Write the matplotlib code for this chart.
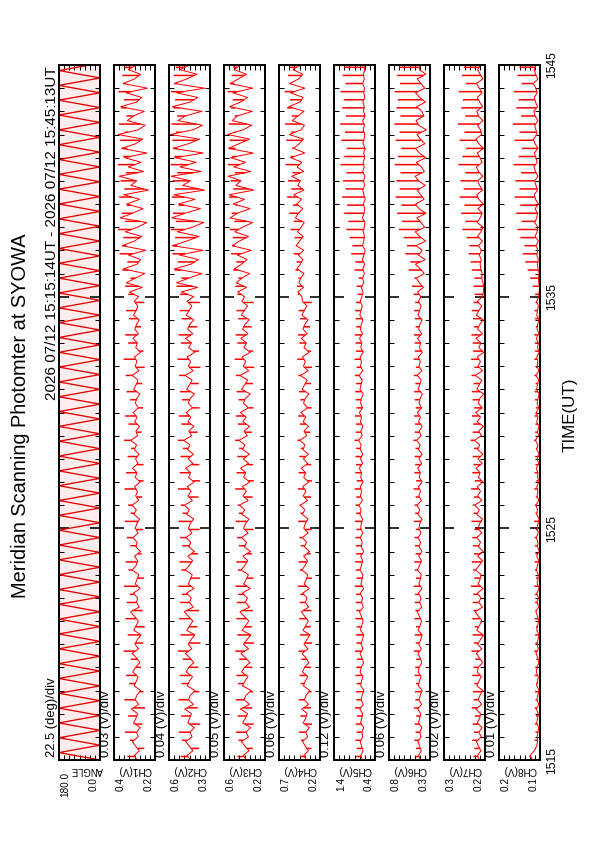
import numpy as np
import matplotlib
matplotlib.use("Agg")
import matplotlib.pyplot as plt

plt.rcParams['font.family'] = ['Liberation Sans', 'DejaVu Sans']

W, H = 595, 842

TITLE = "Meridian Scanning Photomter at SYOWA"
PERIOD = "2026 07/12 15:15:14UT - 2026 07/12 15:45:13UT"
TIME_TICKS_MIN = [0, 10, 20, 30]
TIME_LABELS = ["1515", "1525", "1535", "1545"]

PANEL_NAMES = ["ANGLE", "CH1(V)", "CH2(V)", "CH3(V)", "CH4(V)", "CH5(V)", "CH6(V)", "CH7(V)", "CH8(V)"]
SCALE_TEXT = ["22.5 (deg)/div", "0.03 (V)/div", "0.04 (V)/div", "0.05 (V)/div", "0.06 (V)/div",
              "0.12 (V)/div", "0.06 (V)/div", "0.02 (V)/div", "0.01 (V)/div"]
RANGE_HIGH = [180.0, 0.4, 0.6, 0.6, 0.7, 1.4, 0.8, 0.3, 0.2]
RANGE_LOW = [0.0, 0.2, 0.3, 0.2, 0.2, 0.4, 0.3, 0.2, 0.1]
HIGH_LABEL = ["180.0", "0.4", "0.6", "0.6", "0.7", "1.4", "0.8", "0.3", "0.2"]
LOW_LABEL = ["0.0", "0.2", "0.3", "0.2", "0.2", "0.4", "0.3", "0.2", "0.1"]

# scan angle turning points (minutes after 15:15) and angle (deg)
ANGLE_T = [0.00, 0.32, 0.64, 0.96, 1.28, 1.60, 1.92, 2.24, 2.56, 2.88,
           3.20, 3.52, 3.84, 4.16, 4.48, 4.80, 5.12, 5.44, 5.76, 6.08,
           6.40, 6.72, 7.04, 7.36, 7.68, 8.00, 8.32, 8.64, 8.96, 9.28,
           9.60, 9.92, 10.24, 10.56, 10.88, 11.20, 11.52, 11.84, 12.16, 12.48,
           12.80, 13.12, 13.44, 13.76, 14.08, 14.40, 14.72, 15.04, 15.36, 15.68,
           16.00, 16.32, 16.64, 16.96, 17.28, 17.60, 17.92, 18.24, 18.56, 18.88,
           19.20, 19.52, 19.84, 20.16, 20.48, 20.80, 21.12, 21.44, 21.76, 22.08,
           22.40, 22.72, 23.04, 23.36, 23.68, 24.00, 24.32, 24.64, 24.96, 25.28,
           25.60, 25.92, 26.24, 26.56, 26.88, 27.20, 27.52, 27.84, 28.16, 28.48,
           28.80, 29.12, 29.44, 29.76, 30.08]
ANGLE_DEG = [0, 180, 0, 180, 0, 180, 0, 180, 0, 180, 0, 180, 0, 180, 0, 180, 0, 180, 0, 180,
             0, 180, 0, 180, 0, 180, 0, 180, 0, 180, 0, 180, 0, 180, 0, 180, 0, 180, 0, 180,
             0, 180, 0, 180, 0, 180, 0, 180, 0, 180, 0, 180, 0, 180, 0, 180, 0, 180, 0, 180,
             0, 180, 0, 180, 0, 180, 0, 180, 0, 180, 0, 180, 0, 180, 0, 180, 0, 180, 0, 180,
             0, 180, 0, 180, 0, 180, 0, 180, 0, 180, 0, 180, 0, 180, 0]

# photometer channels, sampled every 0.2 min from 15:15 to 15:45 (mV)
CH1_mV = [288, 301, 276, 295, 310, 282, 290, 272, 305, 293,
          284, 316, 279, 297, 288, 270, 302, 291, 283, 309,
          295, 274, 289, 312, 280, 298, 286, 268, 304, 292,
          281, 300, 319, 277, 290, 285, 306, 273, 296, 288,
          279, 311, 292, 284, 300, 271, 293, 287, 308, 282,
          296, 289, 275, 303, 291, 312, 280, 294, 286, 300,
          272, 297, 288, 309, 283, 295, 278, 301, 290, 318,
          285, 293, 276, 299, 287, 306, 281, 296, 289, 274,
          304, 292, 283, 311, 279, 297, 288, 300, 270, 294,
          286, 308, 281, 299, 290, 277, 305, 292, 284, 301,
          280, 325, 262, 340, 295, 250, 355, 288, 270, 330,
          245, 360, 300, 265, 345, 285, 240, 370, 310, 258,
          338, 275, 352, 232, 318, 290, 375, 255, 330, 268,
          348, 240, 362, 295, 260, 380, 282, 248, 335, 305,
          252, 368, 290, 265, 342, 238, 355, 300, 270, 330, 290]
CH2_mV = [440, 468, 425, 452, 478, 431, 447, 415, 462, 449,
          436, 485, 421, 458, 443, 410, 466, 451, 428, 474,
          455, 419, 446, 480, 433, 460, 438, 412, 470, 448,
          426, 457, 489, 423, 450, 437, 472, 418, 459, 444,
          430, 481, 452, 427, 463, 414, 455, 440, 476, 432,
          458, 445, 420, 469, 451, 487, 429, 461, 439, 466,
          416, 457, 443, 478, 425, 460, 422, 464, 447, 492,
          434, 455, 418, 462, 441, 475, 428, 459, 446, 413,
          471, 449, 431, 483, 424, 458, 442, 467, 411, 456,
          437, 479, 426, 463, 448, 419, 474, 452, 433, 468,
          420, 510, 390, 545, 455, 360, 560, 440, 385, 525,
          350, 575, 470, 380, 540, 430, 345, 580, 485, 370,
          530, 410, 565, 340, 500, 445, 585, 365, 520, 400,
          555, 350, 570, 460, 375, 590, 425, 355, 535, 480,
          360, 575, 445, 390, 545, 340, 560, 470, 395, 520, 450]
CH3_mV = [380, 412, 355, 398, 430, 362, 386, 340, 418, 392,
          370, 440, 352, 405, 384, 335, 420, 396, 365, 428,
          401, 348, 388, 435, 360, 410, 375, 338, 425, 390,
          358, 402, 445, 350, 392, 372, 422, 345, 408, 383,
          362, 432, 397, 368, 415, 342, 400, 380, 428, 365,
          410, 390, 356, 425, 398, 450, 365, 415, 382, 420,
          348, 408, 388, 438, 360, 412, 352, 418, 395, 455,
          372, 405, 350, 416, 385, 440, 362, 410, 392, 345,
          428, 398, 368, 446, 358, 412, 388, 424, 342, 405,
          380, 436, 366, 418, 396, 354, 430, 402, 370, 425,
          400, 465, 380, 480, 425, 350, 500, 430, 375, 470,
          335, 520, 450, 360, 495, 420, 320, 540, 470, 345,
          510, 400, 550, 310, 485, 435, 560, 340, 505, 390,
          535, 315, 555, 455, 350, 565, 415, 330, 520, 470,
          325, 545, 440, 370, 515, 320, 540, 460, 380, 500, 440]
CH4_mV = [365, 398, 342, 380, 412, 350, 372, 330, 405, 376,
          355, 420, 340, 392, 368, 325, 402, 381, 348, 415,
          388, 335, 370, 418, 346, 396, 360, 322, 408, 374,
          344, 386, 428, 338, 378, 358, 410, 332, 394, 366,
          350, 420, 383, 352, 400, 328, 390, 364, 415, 345,
          398, 380, 345, 415, 386, 440, 352, 405, 372, 410,
          338, 398, 376, 428, 350, 402, 342, 408, 384, 445,
          362, 395, 340, 406, 374, 432, 352, 400, 382, 335,
          418, 388, 356, 438, 346, 402, 378, 414, 332, 396,
          370, 428, 356, 408, 386, 345, 420, 392, 360, 415,
          420, 470, 400, 458, 435, 395, 482, 440, 410, 465,
          398, 490, 450, 405, 475, 430, 392, 500, 462, 410,
          485, 425, 520, 395, 470, 440, 545, 400, 480, 420,
          560, 385, 520, 455, 400, 575, 430, 390, 540, 470,
          395, 580, 445, 405, 560, 385, 570, 460, 410, 530, 440]
CH5_mV = [710, 745, 690, 728, 760, 698, 720, 675, 752, 724,
          702, 770, 685, 738, 715, 668, 748, 730, 695, 762,
          735, 680, 718, 765, 692, 740, 708, 672, 755, 722,
          690, 732, 778, 684, 725, 705, 758, 678, 742, 714,
          696, 768, 728, 700, 750, 676, 736, 712, 760, 694,
          750, 735, 700, 768, 740, 790, 708, 758, 726, 762,
          690, 748, 730, 782, 702, 754, 696, 760, 738, 800,
          715, 745, 692, 756, 728, 780, 704, 750, 734, 686,
          766, 740, 710, 788, 698, 752, 732, 764, 684, 746,
          722, 778, 706, 758, 736, 694, 770, 744, 712, 760,
          720, 690, 735, 672, 705, 660, 698, 650, 712, 668,
          640, 700, 676, 655, 690, 662, 645, 705, 668, 650,
          688, 640, 672, 698, 655, 680, 645, 700, 662, 690,
          650, 676, 640, 695, 665, 648, 688, 658, 700, 642,
          680, 662, 695, 648, 675, 655, 700, 660, 685, 650, 670]
CH6_mV = [420, 438, 405, 428, 446, 410, 424, 398, 440, 426,
          412, 450, 402, 434, 418, 395, 442, 430, 408, 445,
          432, 400, 420, 448, 406, 436, 414, 396, 444, 422,
          404, 430, 455, 401, 426, 411, 441, 399, 435, 417,
          407, 452, 428, 403, 438, 397, 433, 415, 447, 409,
          436, 424, 398, 445, 427, 458, 404, 437, 416, 442,
          396, 432, 419, 450, 401, 435, 397, 439, 422, 462,
          410, 431, 395, 440, 417, 454, 403, 434, 421, 392,
          446, 425, 406, 457, 400, 436, 418, 443, 394, 430,
          413, 452, 402, 438, 424, 396, 447, 428, 408, 441,
          410, 452, 380, 430, 465, 370, 420, 478, 360, 440,
          395, 470, 355, 425, 480, 365, 410, 460, 350, 435,
          475, 372, 415, 455, 358, 440, 482, 368, 405, 466,
          352, 430, 478, 362, 418, 458, 345, 437, 470, 375,
          400, 462, 356, 428, 476, 364, 412, 455, 350, 430, 420]
CH7_mV = [214, 218, 210, 216, 221, 209, 215, 207, 219, 213,
          211, 222, 208, 217, 212, 205, 220, 215, 209, 219,
          216, 206, 213, 221, 208, 218, 211, 204, 220, 214,
          207, 216, 224, 206, 215, 210, 219, 205, 217, 212,
          209, 223, 214, 206, 218, 204, 216, 211, 220, 208,
          217, 213, 206, 220, 214, 225, 208, 218, 211, 219,
          205, 216, 212, 222, 207, 217, 205, 218, 213, 226,
          209, 215, 204, 219, 211, 223, 207, 216, 213, 203,
          220, 214, 208, 224, 206, 217, 211, 219, 203, 215,
          210, 222, 206, 218, 213, 204, 221, 215, 208, 219,
          206, 204, 203, 205, 208, 207, 210, 212, 209, 214,
          208, 216, 206, 218, 210, 205, 219, 212, 207, 217,
          204, 215, 220, 206, 213, 218, 205, 216, 221, 207,
          212, 219, 204, 215, 222, 208, 211, 218, 205, 216,
          220, 206, 213, 219, 207, 214, 221, 205, 212, 218, 210]
CH8_mV = [118, 124, 114, 108, 106, 107, 105, 103, 108, 106,
          104, 109, 103, 107, 105, 102, 108, 106, 104, 109,
          107, 103, 105, 110, 104, 107, 105, 102, 108, 106,
          103, 106, 110, 103, 107, 104, 108, 102, 107, 105,
          104, 109, 106, 103, 108, 102, 106, 105, 109, 104,
          107, 105, 102, 108, 106, 110, 103, 107, 105, 108,
          102, 106, 105, 109, 103, 107, 102, 108, 105, 111,
          104, 106, 102, 108, 105, 109, 103, 107, 105, 102,
          108, 106, 103, 110, 103, 107, 105, 108, 102, 106,
          104, 109, 103, 107, 106, 102, 108, 106, 104, 108,
          103, 102, 101, 103, 104, 102, 105, 106, 104, 108,
          105, 110, 104, 112, 107, 105, 113, 108, 106, 112,
          104, 111, 114, 106, 110, 113, 105, 111, 115, 107,
          110, 114, 105, 112, 116, 107, 110, 113, 105, 112,
          115, 106, 111, 114, 107, 110, 116, 105, 111, 114, 109]

# one spike per scan: time (min) and peak value (mV) per channel
SPIKE_T = [0.15, 0.50, 0.85, 1.20, 1.55, 1.90, 2.25, 2.60, 2.95, 3.30,
           3.65, 4.00, 4.35, 4.70, 5.05, 5.40, 5.75, 6.10, 6.45, 6.80,
           7.15, 7.50, 7.85, 8.20, 8.55, 8.90, 9.25, 9.60, 9.95, 10.30,
           10.65, 11.00, 11.35, 11.70, 12.05, 12.40, 12.75, 13.10, 13.45, 13.80,
           14.15, 14.50, 14.85, 15.20, 15.55, 15.90, 16.25, 16.60, 16.95, 17.30,
           17.65, 18.00, 18.35, 18.70, 19.05, 19.40, 19.75,
           20.10, 20.45, 20.80, 21.15, 21.50, 21.85, 22.20, 22.55, 22.90, 23.25,
           23.60, 23.95, 24.30, 24.65, 25.00, 25.35, 25.70, 26.05, 26.40, 26.75,
           27.10, 27.45, 27.80, 28.15, 28.50, 28.85, 29.20, 29.55, 29.90]
CH1_SPIKE_mV = [335, 252, 322, 346, 262, 331, 248, 349, 256, 326,
                341, 268, 318, 353, 258, 333, 250, 344, 260, 338,
                323, 351, 253, 329, 343, 265, 321, 337, 258, 347,
                319, 331, 262, 349, 255, 341, 256, 334, 317, 351,
                266, 329, 346, 258, 321, 339, 262, 343, 250, 353,
                256, 331, 345, 268, 327, 341, 252,
                330, 345, 320, 360, 335, 372, 340, 355, 380, 345,
                362, 338, 375, 350, 368, 342, 380, 355, 335, 370,
                348, 376, 340, 365, 352, 378, 345, 360, 350]
CH2_SPIKE_mV = [515, 380, 505, 528, 372, 512, 390, 530, 378, 508,
                522, 386, 498, 535, 370, 516, 392, 526, 380, 520,
                506, 532, 374, 510, 524, 388, 502, 518, 376, 530,
                500, 514, 384, 534, 372, 522, 378, 516, 498, 536,
                390, 510, 528, 376, 504, 520, 382, 526, 370, 538,
                380, 514, 530, 392, 508, 522, 374,
                520, 545, 510, 560, 535, 575, 540, 555, 585, 550,
                570, 530, 580, 555, 572, 540, 588, 560, 535, 575,
                548, 582, 540, 568, 555, 585, 545, 565, 550]
CH3_SPIKE_mV = [470, 318, 458, 482, 310, 466, 325, 485, 315, 462,
                478, 322, 452, 490, 308, 470, 328, 480, 318, 475,
                460, 488, 312, 465, 480, 326, 455, 472, 314, 486,
                455, 468, 320, 490, 308, 478, 316, 470, 452, 492,
                328, 464, 484, 312, 458, 476, 318, 482, 306, 495,
                316, 470, 486, 330, 462, 478, 310,
                470, 490, 460, 510, 480, 530, 495, 515, 545, 500,
                525, 485, 550, 510, 535, 495, 560, 520, 490, 545,
                505, 555, 495, 530, 515, 565, 500, 525, 510]
CH4_SPIKE_mV = [445, 305, 432, 455, 298, 440, 312, 458, 302, 436,
                450, 310, 428, 462, 296, 444, 315, 454, 305, 448,
                440, 468, 300, 446, 460, 314, 435, 452, 302, 466,
                438, 450, 310, 470, 298, 460, 306, 452, 434, 474,
                318, 446, 466, 302, 440, 458, 308, 464, 296, 476,
                310, 452, 468, 320, 444, 460, 300,
                470, 480, 465, 500, 485, 520, 495, 510, 560, 520,
                575, 530, 600, 550, 590, 535, 620, 560, 540, 610,
                550, 625, 545, 600, 565, 630, 550, 590, 570]
CH5_SPIKE_mV = [860, 845, 880, 850, 870, 840, 885, 855, 865, 848,
                875, 858, 842, 890, 852, 868, 846, 880, 856, 872,
                862, 895, 850, 870, 884, 858, 866, 878, 852, 892,
                860, 874, 856, 896, 848, 880, 862, 876, 858, 900,
                870, 864, 888, 852, 872, 884, 860, 890, 850, 898,
                866, 874, 892, 858, 870, 886, 862,
                820, 850, 800, 900, 880, 980, 950, 1020, 1100, 1050,
                1150, 1080, 1200, 1120, 1180, 1100, 1240, 1150, 1090, 1220,
                1130, 1250, 1110, 1200, 1160, 1240, 1120, 1190, 1150]
CH6_SPIKE_mV = [480, 472, 490, 476, 486, 468, 494, 478, 484, 470,
                488, 480, 466, 496, 474, 485, 470, 490, 478, 486,
                482, 498, 472, 484, 492, 476, 483, 489, 474, 497,
                480, 487, 476, 500, 469, 490, 481, 488, 477, 502,
                485, 482, 494, 474, 486, 492, 479, 496, 472, 500,
                483, 487, 495, 476, 484, 493, 480,
                500, 520, 490, 560, 540, 600, 580, 620, 680, 640,
                700, 650, 720, 670, 710, 660, 730, 690, 650, 720,
                670, 735, 660, 710, 690, 730, 665, 700, 680]
CH7_SPIKE_mV = [228, 226, 231, 227, 230, 225, 232, 228, 229, 226,
                231, 228, 224, 233, 227, 230, 225, 231, 228, 230,
                229, 234, 226, 229, 232, 227, 229, 231, 226, 233,
                228, 230, 227, 234, 225, 231, 228, 230, 227, 235,
                230, 229, 232, 226, 230, 232, 228, 233, 226, 234,
                229, 230, 233, 227, 229, 232, 228,
                225, 228, 226, 232, 235, 240, 238, 245, 255, 248,
                258, 250, 262, 252, 260, 248, 265, 255, 246, 262,
                250, 266, 248, 258, 254, 264, 247, 256, 252]
CH8_SPIKE_mV = [126, 112, 113, 111, 112, 110, 113, 111, 112, 110,
                113, 111, 109, 114, 111, 112, 110, 113, 111, 112,
                112, 114, 110, 112, 113, 111, 112, 113, 110, 114,
                111, 112, 110, 114, 109, 113, 111, 112, 110, 115,
                112, 111, 113, 110, 112, 113, 111, 114, 110, 114,
                112, 112, 114, 110, 112, 113, 111,
                112, 118, 124, 130, 136, 142, 138, 148, 155, 145,
                158, 148, 162, 150, 160, 146, 165, 152, 144, 162,
                150, 166, 146, 158, 152, 164, 145, 155, 150]

CHANNELS = [CH1_mV, CH2_mV, CH3_mV, CH4_mV, CH5_mV, CH6_mV, CH7_mV, CH8_mV]
SPIKES = [CH1_SPIKE_mV, CH2_SPIKE_mV, CH3_SPIKE_mV, CH4_SPIKE_mV,
          CH5_SPIKE_mV, CH6_SPIKE_mV, CH7_SPIKE_mV, CH8_SPIKE_mV]

fig = plt.figure(figsize=(W / 72, H / 72), dpi=72)


def ftext(x, y, s, **kw):
    fig.text(x / W, 1 - y / H, s, **kw)


PANEL_TOP, PANEL_BOT = 65, 760
PANEL_W = 41
RED = '#ff0000'

for i in range(9):
    left = 59 + 55 * i
    ax = fig.add_axes([left / W, (H - PANEL_BOT) / H, PANEL_W / W, (PANEL_BOT - PANEL_TOP) / H])
    hi, lo = RANGE_HIGH[i], RANGE_LOW[i]
    if i == 0:
        ax.set_facecolor('#ffecec')
        n = min(len(ANGLE_T), len(ANGLE_DEG))
        ax.plot(ANGLE_DEG[:n], ANGLE_T[:n], color='#e00000', lw=1.3)
    else:
        vals = np.array(CHANNELS[i - 1]) / 1000.0
        t = np.linspace(0, 30, len(vals))
        ax.plot(vals, t, color=RED, lw=1.0)
        sp = SPIKES[i - 1]
        n = min(len(sp), len(SPIKE_T))
        peaks = np.array(sp[:n]) / 1000.0
        st = np.array(SPIKE_T[:n])
        base = np.interp(st, t, vals)
        ax.hlines(st, base, peaks, colors=RED, linewidths=1.5, snap=False, antialiased=True)
    ax.set_xlim(hi, lo)
    ax.set_ylim(0, 30)
    ax.set_yticks(TIME_TICKS_MIN)
    ax.set_yticks(np.arange(0, 31, 1), minor=True)
    ax.set_xticks([lo + (hi - lo) * k / 8 for k in range(1, 8)])
    ax.tick_params(axis='x', which='both', direction='in', top=True, bottom=True,
                   length=5, width=1, labelbottom=False)
    ax.tick_params(axis='y', which='both', direction='in', left=True, right=True, labelleft=False)
    ax.tick_params(axis='y', which='major', length=10, width=1.6)
    ax.tick_params(axis='y', which='minor', length=5, width=1)
    for s in ax.spines.values():
        s.set_linewidth(2)
    if i == 8:
        ax.set_yticklabels(TIME_LABELS)
        ax.tick_params(axis='y', which='major', labelright=True, labelsize=12, pad=6,
                       labelrotation=90)
        for lab in ax.get_yticklabels():
            lab.set_verticalalignment('center')

    cx = left + PANEL_W / 2
    ftext(left - 1.5, 757, SCALE_TEXT[i], rotation=90, rotation_mode='anchor',
          ha='left', va='bottom', fontsize=13)
    if i == 0:
        ftext(87, 770, PANEL_NAMES[i], rotation=180, ha='center', va='center', fontsize=9.5)
        ftext(left + 6, 784, HIGH_LABEL[i], rotation=90, ha='center', va='center', fontsize=10)
    else:
        ftext(cx, 770, PANEL_NAMES[i], rotation=180, ha='center', va='center', fontsize=10)
        ftext(left + 7, 784, HIGH_LABEL[i], rotation=90, ha='center', va='center', fontsize=10)
    ftext(left + PANEL_W - 6, 784, LOW_LABEL[i], rotation=90, ha='center', va='center', fontsize=10)

ftext(21, 416, TITLE, rotation=90, ha='center', va='center', fontsize=20)
ftext(52, 66, PERIOD, rotation=90, rotation_mode='anchor', ha='right', va='center', fontsize=15.3)
ftext(570, 415, "TIME(UT)", rotation=90, ha='center', va='center', fontsize=17)

fig.savefig("out.png", dpi=72)
